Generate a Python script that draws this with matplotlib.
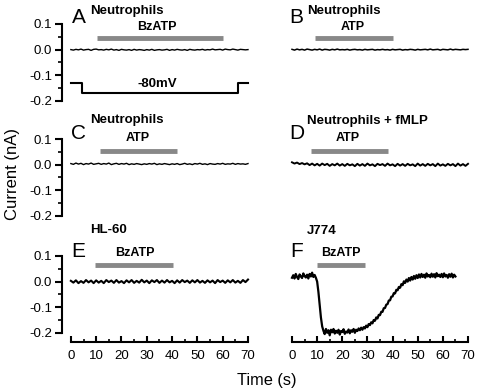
import numpy as np
import matplotlib
matplotlib.use("Agg")
import matplotlib.pyplot as plt
from matplotlib.ticker import MultipleLocator, FixedLocator

plt.rcParams['font.family'] = ['Liberation Sans', 'DejaVu Sans']
plt.rcParams['axes.unicode_minus'] = False

#______________ DATA ______________
# flat traces sampled every 1 s (nA)
t_flat = np.arange(0, 71, 1)
a_vals = [0.000,-0.002,0.001,-0.001,0.002,-0.002,0.000,0.001,-0.003,0.001,
          0.002,-0.001,0.000,-0.002,0.001,-0.001,0.002,-0.002,0.000,-0.003,
          0.001,-0.001,-0.002,0.000,-0.003,0.001,-0.002,0.000,-0.001,-0.003,
          0.000,-0.002,0.001,-0.003,-0.001,0.000,-0.002,-0.001,0.001,-0.003,
          0.000,-0.002,0.001,-0.001,-0.002,0.000,-0.003,0.001,-0.001,-0.002,
          0.000,-0.001,0.001,-0.002,0.000,-0.001,0.002,-0.001,0.000,0.001,
          -0.002,0.002,0.000,-0.001,0.002,0.000,-0.002,0.001,0.000,-0.001,0.000]
b_vals = [0.001,-0.002,0.002,-0.001,0.001,-0.002,0.002,0.000,-0.002,0.001,
          -0.001,0.002,-0.002,0.001,0.000,-0.002,0.001,-0.001,0.002,-0.001,
          0.000,-0.001,0.001,-0.002,0.000,0.001,-0.001,0.000,-0.002,0.001,
          -0.001,0.000,0.001,-0.002,0.000,-0.001,0.001,-0.001,0.000,-0.002,
          0.001,-0.001,0.000,0.001,-0.002,0.000,-0.001,0.001,0.000,-0.002,
          0.001,-0.001,0.000,0.001,-0.001,0.002,-0.001,0.000,0.001,-0.002,
          0.001,0.000,-0.001,0.002,-0.001,0.001,0.000,-0.001,0.001,0.000,0.001]
c_vals = [0.004,0.001,0.006,0.002,0.005,0.000,0.004,0.002,0.006,0.001,
          0.003,0.005,0.001,0.004,0.002,0.006,0.000,0.003,0.005,0.001,
          0.004,0.002,0.005,0.000,0.003,0.001,0.004,0.002,0.000,0.003,
          0.001,0.004,0.002,0.005,0.000,0.003,0.001,0.004,0.002,0.000,
          0.003,0.001,0.004,0.000,0.002,0.005,0.001,0.003,0.000,0.004,
          0.002,0.005,0.001,0.003,0.000,0.004,0.002,0.001,0.004,0.002,
          0.005,0.001,0.003,0.002,0.005,0.001,0.004,0.002,0.003,0.001,0.004]
d_vals = [0.009,0.004,0.008,0.002,0.006,0.001,0.005,-0.002,0.004,-0.003,
          0.003,-0.004,0.004,-0.002,0.003,-0.005,0.002,-0.003,0.004,-0.004,
          0.002,-0.005,0.003,-0.003,0.001,-0.006,0.003,-0.004,0.002,-0.005,
          0.004,-0.003,0.001,-0.006,0.003,-0.002,0.002,-0.005,0.004,-0.003,
          0.001,-0.006,0.003,-0.004,0.002,-0.005,0.003,-0.003,0.001,-0.006,
          0.004,-0.004,0.002,-0.005,0.003,-0.003,0.002,-0.006,0.004,-0.004,
          0.001,-0.005,0.003,-0.003,0.002,-0.006,0.004,-0.004,0.002,-0.005,0.003]
e_vals = [0.003,-0.004,0.005,-0.006,0.002,-0.005,0.006,-0.003,0.004,-0.006,
          0.005,-0.004,0.003,-0.006,0.006,-0.002,0.004,-0.005,0.006,-0.004,
          0.002,-0.006,0.005,-0.003,0.006,-0.005,0.003,-0.004,0.007,-0.003,
          0.004,-0.006,0.005,-0.002,0.006,-0.005,0.004,-0.004,0.006,-0.003,
          0.003,-0.006,0.005,-0.004,0.006,-0.002,0.004,-0.005,0.005,-0.003,
          0.006,-0.004,0.003,-0.005,0.005,-0.003,0.004,-0.006,0.006,-0.002,
          0.004,-0.005,0.005,-0.003,0.006,-0.004,0.003,-0.005,0.006,-0.002,0.008]

# J774 trace sampled every 0.5 s (nA)
t_f = np.arange(0, 65.5, 0.5)
f_vals = [0.015,0.025,0.012,0.030,0.018,0.010,0.028,0.020,0.014,0.032,
          0.022,0.016,0.027,0.012,0.030,0.020,0.035,0.018,0.026,0.015,
          0.000,-0.040,-0.090,-0.140,-0.175,-0.192,
          -0.205,-0.185,-0.200,-0.190,-0.210,-0.188,-0.198,-0.185,-0.203,-0.192,
          -0.200,-0.188,-0.207,-0.193,-0.197,-0.186,-0.204,-0.195,-0.199,-0.187,
          -0.202,-0.190,-0.196,-0.185,-0.200,-0.188,-0.193,-0.183,-0.190,
          -0.180,-0.188,-0.178,-0.183,-0.172,-0.178,-0.166,-0.170,-0.159,-0.163,
          -0.150,-0.153,-0.140,-0.144,-0.130,-0.131,-0.118,-0.118,-0.104,-0.103,
          -0.090,-0.088,-0.074,-0.073,-0.059,-0.058,-0.045,-0.046,-0.032,-0.034,
          -0.021,-0.024,-0.010,-0.014,0.001,-0.005,0.008,0.000,0.014,0.004,
          0.018,0.008,0.022,0.011,0.025,0.014,
          0.028,0.016,0.030,0.018,0.027,0.015,0.032,0.020,0.026,0.017,
          0.031,0.019,0.029,0.016,0.033,0.021,0.027,0.018,0.030,0.017,
          0.032,0.020,0.026,0.015,0.029,0.019,0.031,0.016,0.027,0.020]

# drug application bars (start s, end s, level nA)
bar_a = [10.3, 60.0, 0.045]
bar_b = [9.0, 40.2, 0.045]
bar_c = [11.5, 42.0, 0.053]
bar_d = [7.6, 38.2, 0.053]
bar_e = [9.5, 40.3, 0.064]
bar_f = [10.0, 29.0, 0.064]

# voltage protocol drawn in panel A
proto_t = [0, 4.3, 4.3, 66.0, 66.0, 70]
proto_v = [-0.131, -0.131, -0.171, -0.171, -0.131, -0.131]

#______________ FIGURE ______________
W, H = 478, 392
fig = plt.figure(figsize=(W/100., H/100.), dpi=100)

XLIM = (-3.5, 70)
YLIM = (-0.235, 0.12)
ax_h = (YLIM[1]-YLIM[0]) * 256.0   # px

def make_ax(left_px, width_px, y01_px):
    top = y01_px - (YLIM[1]-0.1)*256.0
    ax = fig.add_axes([left_px/W, 1-(top+ax_h)/H, width_px/W, ax_h/H])
    ax.set_xlim(XLIM)
    ax.set_ylim(YLIM)
    ax.patch.set_visible(False)
    for s in ax.spines.values():
        s.set_visible(False)
    ax.set_xticks([])
    ax.set_yticks([])
    return ax

rows = [24, 139, 256]
axL = [make_ax(62, 186, y) for y in rows]
axR = [make_ax(283.2, 184.8, y) for y in rows]

# y axes on the left column
for ax in axL:
    ax.spines['left'].set_visible(True)
    ax.spines['left'].set_linewidth(1.5)
    ax.spines['left'].set_bounds(-0.2, 0.1)
    ax.yaxis.set_major_locator(FixedLocator([-0.2, -0.1, 0.0, 0.1]))
    ax.yaxis.set_minor_locator(FixedLocator([-0.15, -0.05, 0.05]))
    ax.yaxis.set_major_formatter(plt.FuncFormatter(lambda v, p: '%.1f' % v if abs(v) > 1e-9 else '0.0'))
    ax.tick_params(axis='y', which='major', direction='out', length=5, width=1.5,
                   labelsize=9.5, pad=2)
    ax.tick_params(axis='y', which='minor', direction='out', length=3, width=1.2)

# x axes on the bottom row
for ax in (axL[2], axR[2]):
    ax.spines['bottom'].set_visible(True)
    ax.spines['bottom'].set_linewidth(1.5)
    ax.spines['bottom'].set_bounds(0, 70)
    ax.xaxis.set_major_locator(MultipleLocator(10))
    ax.xaxis.set_minor_locator(FixedLocator([5, 15, 25, 35, 45, 55, 65]))
    ax.tick_params(axis='x', which='major', direction='in', length=4, width=1.5,
                   labelsize=9.5, pad=6)
    ax.tick_params(axis='x', which='minor', direction='in', length=2.5, width=1.2)

traces = [(axL[0], t_flat, a_vals, 1.0), (axR[0], t_flat, b_vals, 1.1),
          (axL[1], t_flat, c_vals, 1.0), (axR[1], t_flat, d_vals, 1.4),
          (axL[2], t_flat, e_vals, 1.5), (axR[2], t_f, f_vals, 1.6)]
for ax, t, v, lw in traces:
    ax.plot(t, v, color='black', lw=lw, clip_on=False)

bars = [(axL[0], bar_a), (axR[0], bar_b), (axL[1], bar_c),
        (axR[1], bar_d), (axL[2], bar_e), (axR[2], bar_f)]
for ax, b in bars:
    ax.plot([b[0], b[1]], [b[2], b[2]], color='#888888', lw=3.5,
            solid_capstyle='butt', clip_on=False)

axL[0].plot(proto_t, proto_v, color='black', lw=1.5, clip_on=False)
axL[0].text(34, -0.146, '-80mV', ha='center', va='baseline',
            fontsize=9.5, fontweight='bold')

# panel labels and annotations (pixel positions)
def ftext(x, y, s, **kw):
    fig.text(x/W, 1-y/H, s, va='baseline', **kw)

NAME = dict(fontsize=9.5, fontweight='bold')
DRUG = dict(fontsize=9, fontweight='bold', ha='center')

ftext(72, 23, 'A', fontsize=15)
ftext(90, 14, 'Neutrophils', **NAME)
ftext(157, 30, 'BzATP', **DRUG)

ftext(289, 23, 'B', fontsize=15)
ftext(307, 14, 'Neutrophils', **NAME)
ftext(353, 30, 'ATP', **DRUG)

ftext(71, 139, 'C', fontsize=15)
ftext(90, 123, 'Neutrophils', **NAME)
ftext(138, 141, 'ATP', **DRUG)

ftext(289, 139, 'D', fontsize=15)
ftext(307, 124, 'Neutrophils + fMLP', **NAME)
ftext(348, 141, 'ATP', **DRUG)

ftext(90, 233, 'HL-60', **NAME)
ftext(71, 257, 'E', fontsize=15)
ftext(135, 256, 'BzATP', **DRUG)

ftext(307, 234, 'J774', **NAME)
ftext(290, 257, 'F', fontsize=15)
ftext(341, 256, 'BzATP', **DRUG)

fig.text(13/W, 1-174/H, 'Current (nA)', rotation=90, ha='center', va='center', fontsize=12)
fig.text(267/W, 1-380/H, 'Time (s)', ha='center', va='center', fontsize=11.8)

fig.savefig('out.png', dpi=100)
